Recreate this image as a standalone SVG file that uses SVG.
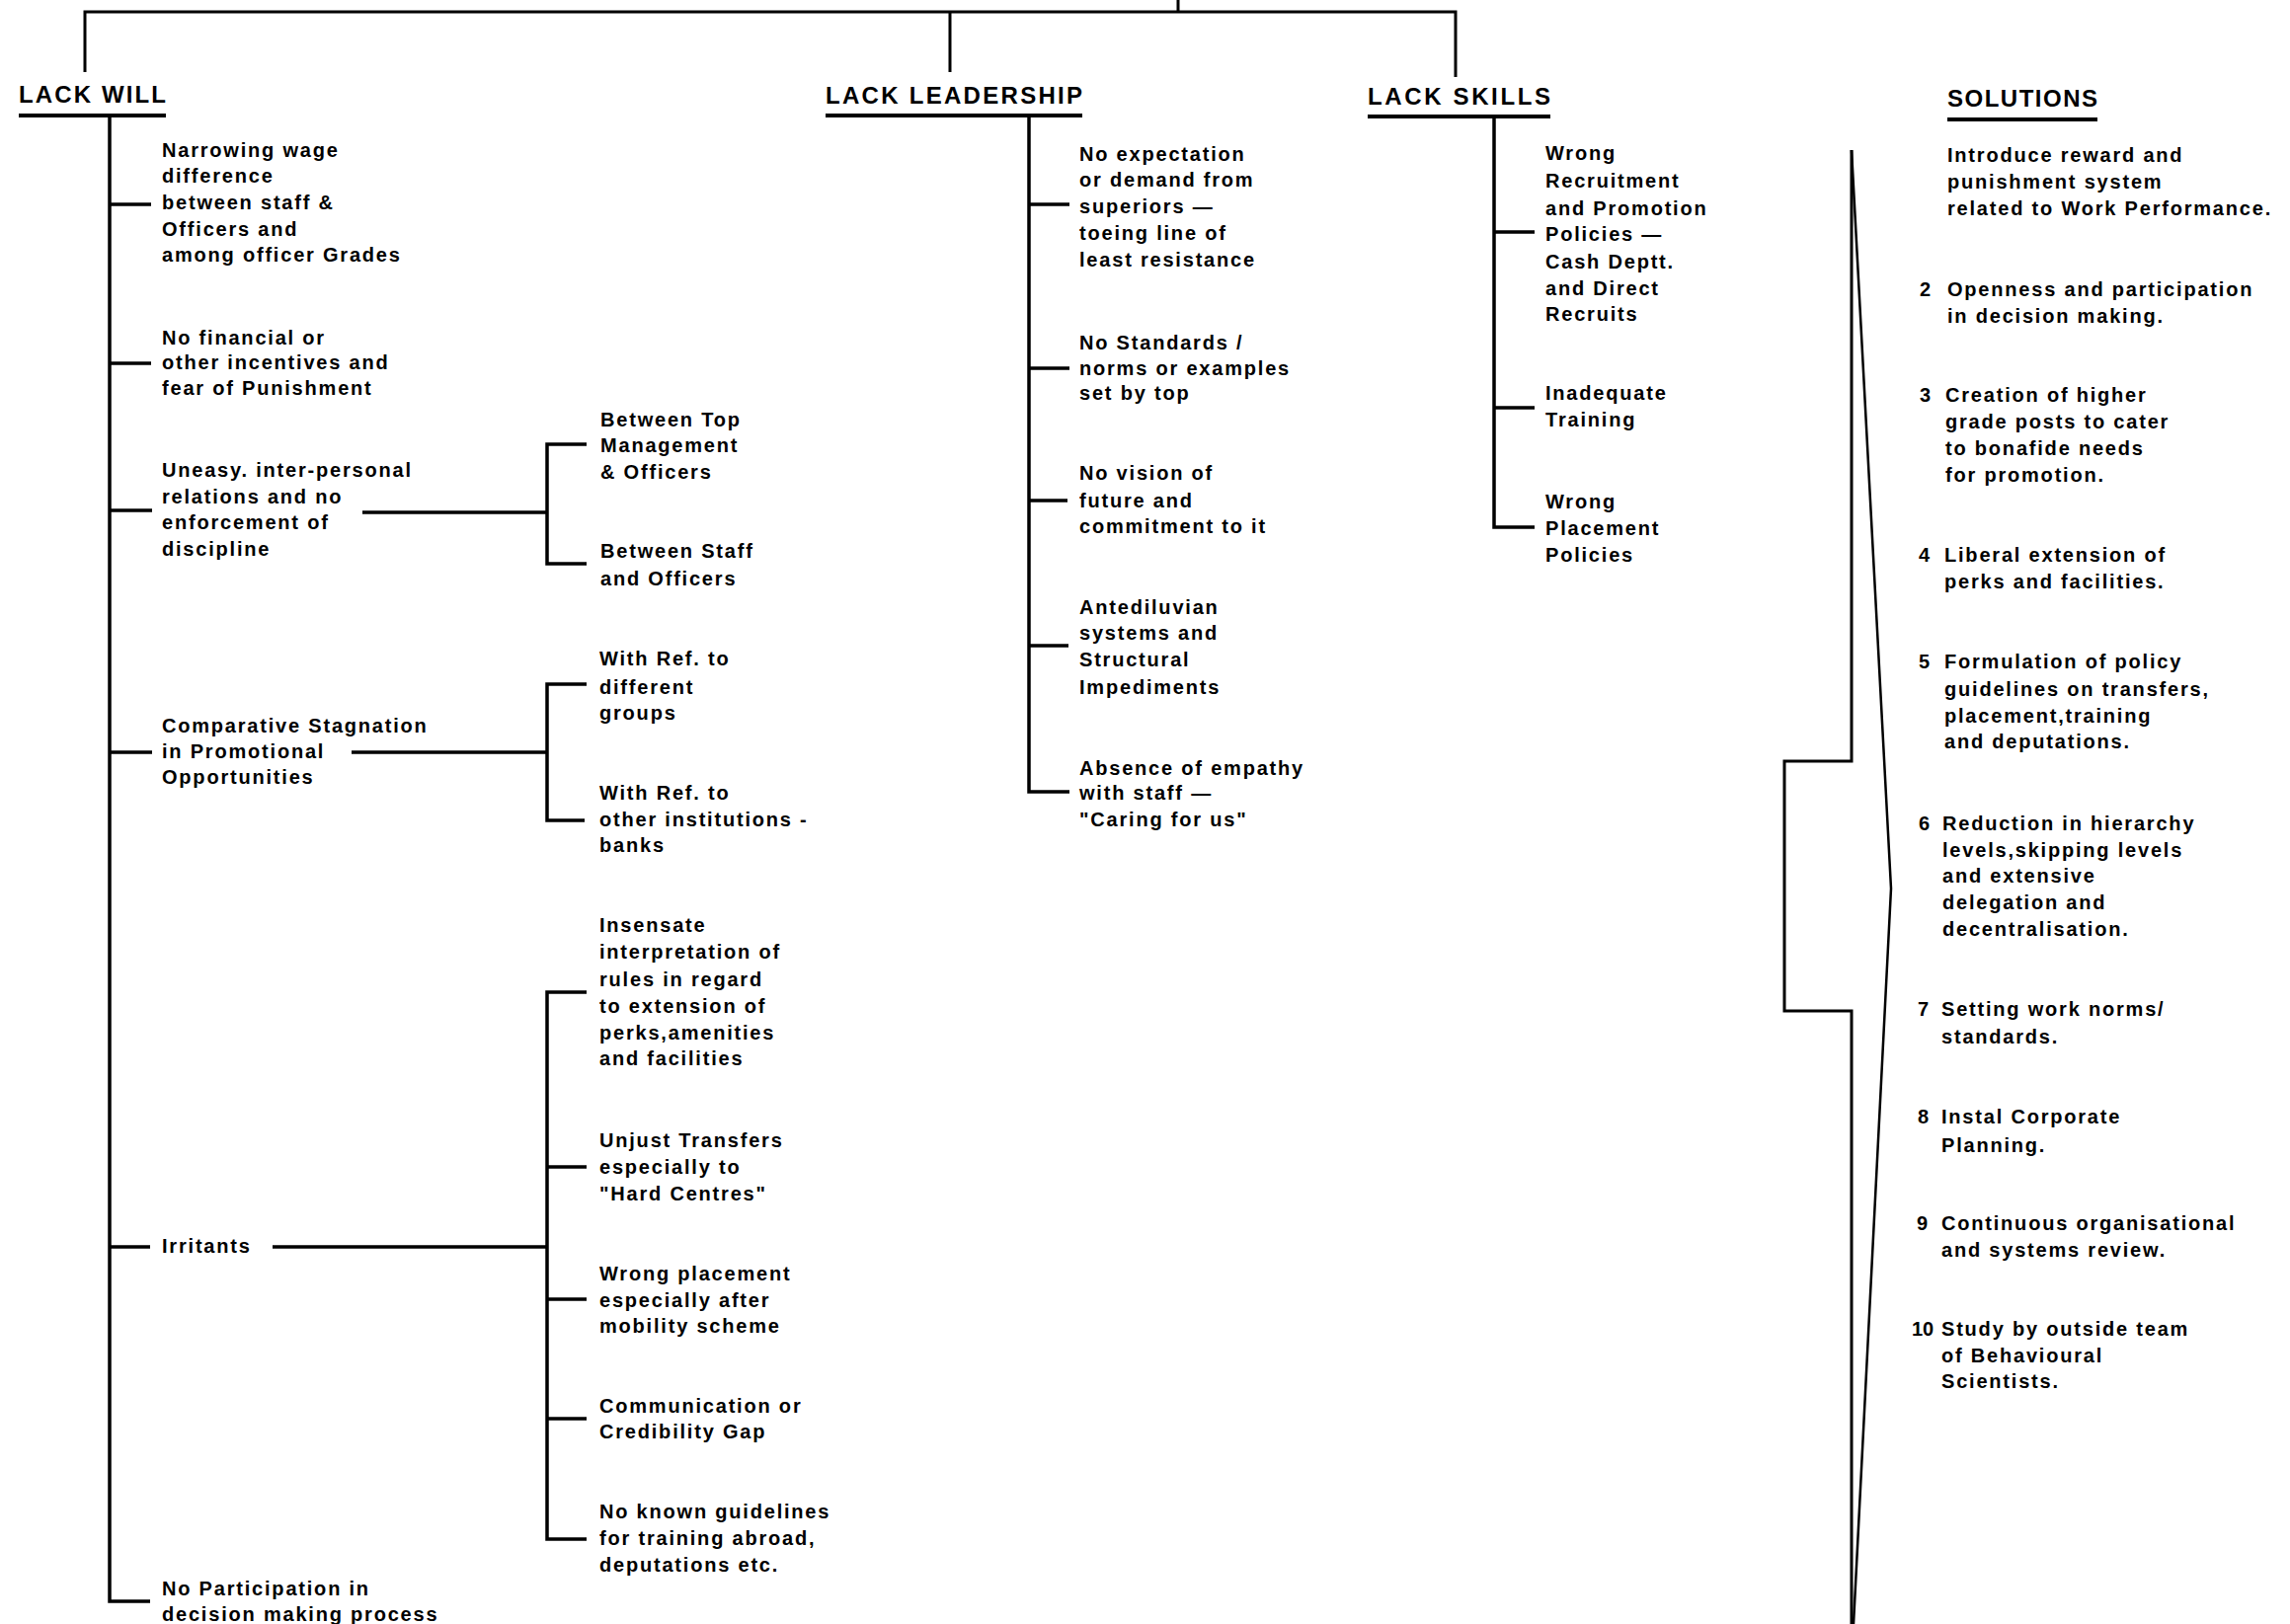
<svg xmlns="http://www.w3.org/2000/svg" width="2319" height="1645" viewBox="0 0 2319 1645">
<style>
.t{font-family:"Liberation Sans",Arial,sans-serif;font-weight:bold;font-size:20px;letter-spacing:1.8px;fill:#000}
.h{font-family:"Liberation Sans",Arial,sans-serif;font-weight:bold;font-size:24px;fill:#000}
.c{stroke:#000;stroke-width:3.5;fill:none;stroke-linecap:butt;stroke-linejoin:miter}
.u{stroke:#000;stroke-width:4;fill:none}
</style>
<rect width="2319" height="1645" fill="#fff"/>
<g id="connectors">
  <path class="c" style="stroke-width:3" d="M86,73 V12 H1474 V78"/>
  <path class="c" style="stroke-width:3" d="M1193,0 V12 M962,12 V73"/>
  <path class="c" d="M111,117 V1622 H152 M111,207 H153 M111,368 H153 M111,517 H154 M111,762 H154 M111,1263 H152"/>
  <path class="c" d="M367,519 H554 M594,450 H554 V571 H594"/>
  <path class="c" d="M356,762 H554 M594,693 H554 V831 H592"/>
  <path class="c" d="M276,1263 H554 M594,1005 H554 V1559 H594 M554,1182 H594 M554,1316 H594 M554,1437 H594"/>
  <path class="c" d="M1042,117 V802 H1083 M1042,207 H1083 M1042,373 H1083 M1042,507 H1081 M1042,654 H1082"/>
  <path class="c" d="M1513,118 V534 H1554 M1513,235 H1554 M1513,413 H1554"/>
  <path class="c" style="stroke-width:3" d="M1875,152 V771 H1807 V1024 H1875 V1645"/>
  <path class="c" style="stroke-width:2.5" d="M1875,152 L1915,900 L1877,1645"/>
</g>
<g id="lack-will">
  <text class="h" x="19" y="104" textLength="149">LACK WILL</text>
  <line class="u" x1="19" y1="117" x2="168" y2="117"/>
</g>
<g id="lack-leadership">
  <text class="h" x="836" y="105" textLength="260">LACK LEADERSHIP</text>
  <line class="u" x1="836" y1="117" x2="1096" y2="117"/>
</g>
<g id="lack-skills">
  <text class="h" x="1385" y="106" textLength="185">LACK SKILLS</text>
  <line class="u" x1="1385" y1="118" x2="1570" y2="118"/>
</g>
<g id="solutions">
  <text class="h" x="1972" y="108" textLength="152">SOLUTIONS</text>
  <line class="u" x1="1972" y1="121" x2="2124" y2="121"/>
</g>
<g id="w1"><text class="t"><tspan x="164" y="159">Narrowing wage</tspan><tspan x="164" y="185">difference</tspan><tspan x="164" y="212">between staff &amp;</tspan><tspan x="164" y="239">Officers and</tspan><tspan x="164" y="265">among officer Grades</tspan></text></g>
<g id="w2"><text class="t"><tspan x="164" y="349">No financial or</tspan><tspan x="164" y="374">other incentives and</tspan><tspan x="164" y="400">fear of Punishment</tspan></text></g>
<g id="w3"><text class="t"><tspan x="164" y="483">Uneasy. inter-personal</tspan><tspan x="164" y="510">relations and no</tspan><tspan x="164" y="536">enforcement of</tspan><tspan x="164" y="563">discipline</tspan></text></g>
<g id="w3a"><text class="t"><tspan x="608" y="432">Between Top</tspan><tspan x="608" y="458">Management</tspan><tspan x="608" y="485">&amp; Officers</tspan></text></g>
<g id="w3b"><text class="t"><tspan x="608" y="565">Between Staff</tspan><tspan x="608" y="593">and Officers</tspan></text></g>
<g id="w4"><text class="t"><tspan x="164" y="742">Comparative Stagnation</tspan><tspan x="164" y="768">in Promotional</tspan><tspan x="164" y="794">Opportunities</tspan></text></g>
<g id="w4a"><text class="t"><tspan x="607" y="674">With Ref. to</tspan><tspan x="607" y="703">different</tspan><tspan x="607" y="729">groups</tspan></text></g>
<g id="w4b"><text class="t"><tspan x="607" y="810">With Ref. to</tspan><tspan x="607" y="837">other institutions -</tspan><tspan x="607" y="863">banks</tspan></text></g>
<g id="w5"><text class="t" x="164" y="1269">Irritants</text></g>
<g id="w5a"><text class="t"><tspan x="607" y="944">Insensate</tspan><tspan x="607" y="971">interpretation of</tspan><tspan x="607" y="999">rules in regard</tspan><tspan x="607" y="1026">to extension of</tspan><tspan x="607" y="1053">perks,amenities</tspan><tspan x="607" y="1079">and facilities</tspan></text></g>
<g id="w5b"><text class="t"><tspan x="607" y="1162">Unjust Transfers</tspan><tspan x="607" y="1189">especially to</tspan><tspan x="607" y="1216">"Hard Centres"</tspan></text></g>
<g id="w5c"><text class="t"><tspan x="607" y="1297">Wrong placement</tspan><tspan x="607" y="1324">especially after</tspan><tspan x="607" y="1350">mobility scheme</tspan></text></g>
<g id="w5d"><text class="t"><tspan x="607" y="1431">Communication or</tspan><tspan x="607" y="1457">Credibility Gap</tspan></text></g>
<g id="w5e"><text class="t"><tspan x="607" y="1538">No known guidelines</tspan><tspan x="607" y="1565">for training abroad,</tspan><tspan x="607" y="1592">deputations etc.</tspan></text></g>
<g id="w6"><text class="t"><tspan x="164" y="1616">No Participation in</tspan><tspan x="164" y="1642">decision making process</tspan></text></g>
<g id="l1"><text class="t"><tspan x="1093" y="163">No expectation</tspan><tspan x="1093" y="189">or demand from</tspan><tspan x="1093" y="216">superiors —</tspan><tspan x="1093" y="243">toeing line of</tspan><tspan x="1093" y="270">least resistance</tspan></text></g>
<g id="l2"><text class="t"><tspan x="1093" y="354">No Standards /</tspan><tspan x="1093" y="380">norms or examples</tspan><tspan x="1093" y="405">set by top</tspan></text></g>
<g id="l3"><text class="t"><tspan x="1093" y="486">No vision of</tspan><tspan x="1093" y="514">future and</tspan><tspan x="1093" y="540">commitment to it</tspan></text></g>
<g id="l4"><text class="t"><tspan x="1093" y="622">Antediluvian</tspan><tspan x="1093" y="648">systems and</tspan><tspan x="1093" y="675">Structural</tspan><tspan x="1093" y="703">Impediments</tspan></text></g>
<g id="l5"><text class="t"><tspan x="1093" y="785">Absence of empathy</tspan><tspan x="1093" y="810">with staff —</tspan><tspan x="1093" y="837">"Caring for us"</tspan></text></g>
<g id="s1"><text class="t"><tspan x="1565" y="162">Wrong</tspan><tspan x="1565" y="190">Recruitment</tspan><tspan x="1565" y="218">and Promotion</tspan><tspan x="1565" y="244">Policies —</tspan><tspan x="1565" y="272">Cash Deptt.</tspan><tspan x="1565" y="299">and Direct</tspan><tspan x="1565" y="325">Recruits</tspan></text></g>
<g id="s2"><text class="t"><tspan x="1565" y="405">Inadequate</tspan><tspan x="1565" y="432">Training</tspan></text></g>
<g id="s3"><text class="t"><tspan x="1565" y="515">Wrong</tspan><tspan x="1565" y="542">Placement</tspan><tspan x="1565" y="569">Policies</tspan></text></g>
<g id="sol1"><text class="t"><tspan x="1972" y="164">Introduce reward and</tspan><tspan x="1972" y="191">punishment system</tspan><tspan x="1972" y="218">related to Work Performance.</tspan></text></g>
<g id="sol2"><text class="t"><tspan x="1944" y="300">2</tspan><tspan x="1972" y="300">Openness and participation</tspan><tspan x="1972" y="327">in decision making.</tspan></text></g>
<g id="sol3"><text class="t"><tspan x="1944" y="407">3</tspan><tspan x="1970" y="407">Creation of higher</tspan><tspan x="1970" y="434">grade posts to cater</tspan><tspan x="1970" y="461">to bonafide needs</tspan><tspan x="1970" y="488">for promotion.</tspan></text></g>
<g id="sol4"><text class="t"><tspan x="1943" y="569">4</tspan><tspan x="1969" y="569">Liberal extension of</tspan><tspan x="1969" y="596">perks and facilities.</tspan></text></g>
<g id="sol5"><text class="t"><tspan x="1943" y="677">5</tspan><tspan x="1969" y="677">Formulation of policy</tspan><tspan x="1969" y="705">guidelines on transfers,</tspan><tspan x="1969" y="732">placement,training</tspan><tspan x="1969" y="758">and deputations.</tspan></text></g>
<g id="sol6"><text class="t"><tspan x="1943" y="841">6</tspan><tspan x="1967" y="841">Reduction in hierarchy</tspan><tspan x="1967" y="868">levels,skipping levels</tspan><tspan x="1967" y="894">and extensive</tspan><tspan x="1967" y="921">delegation and</tspan><tspan x="1967" y="948">decentralisation.</tspan></text></g>
<g id="sol7"><text class="t"><tspan x="1942" y="1029">7</tspan><tspan x="1966" y="1029">Setting work norms/</tspan><tspan x="1966" y="1057">standards.</tspan></text></g>
<g id="sol8"><text class="t"><tspan x="1942" y="1138">8</tspan><tspan x="1966" y="1138">Instal Corporate</tspan><tspan x="1966" y="1167">Planning.</tspan></text></g>
<g id="sol9"><text class="t"><tspan x="1941" y="1246">9</tspan><tspan x="1966" y="1246">Continuous organisational</tspan><tspan x="1966" y="1273">and systems review.</tspan></text></g>
<g id="sol10"><text class="t"><tspan x="1936" y="1353" style="letter-spacing:0">10</tspan><tspan x="1966" y="1353">Study by outside team</tspan><tspan x="1966" y="1380">of Behavioural</tspan><tspan x="1966" y="1406">Scientists.</tspan></text></g>
</svg>
